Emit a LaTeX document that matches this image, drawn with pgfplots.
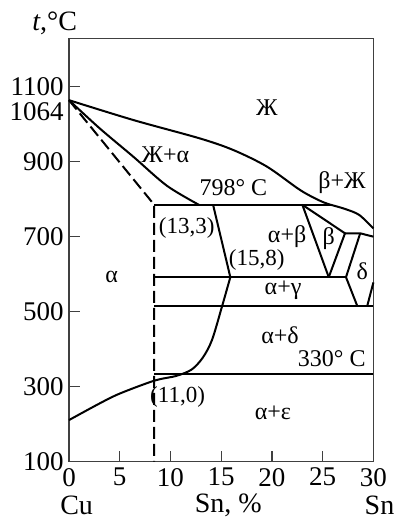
\documentclass[border=0pt]{standalone}
\usepackage{fontspec}
\setmainfont{Liberation Serif}
\usepackage{pgfplots}
\pgfplotsset{compat=1.18}

\begin{document}
\fontsize{12}{14}\selectfont
\begin{tikzpicture}
\useasboundingbox (-34.5pt,-28.65pt) rectangle (163pt,230.85pt);
\begin{axis}[
  at={(0,0)}, anchor=south west,
  scale only axis, width=152.2pt, height=211.7pt,
  xmin=0, xmax=30, ymin=100, ymax=1229,
  xtick={0,5,...,30}, ytick={100,300,...,1100},
  tick align=inside, tick pos=left,
  major tick length=5.5pt,
  extra y ticks={1064},
  extra y tick style={major tick length=0pt, tick label style={yshift=-5.7pt}},
  axis line style={draw=black!75, line width=0.6pt},
  tick style={black!75, line width=0.6pt},
  tick label style={font=\fontsize{13.5}{15}\selectfont, inner sep=1.5pt},
  xticklabel style={yshift=-1.5pt},
  yticklabel style={xshift=-1pt},
  /pgf/number format/assume math mode=true,
  /pgf/number format/1000 sep={},
  clip=false,
]
% liquidus
\addplot[black, line width=1pt, smooth, tension=0.5] coordinates {
  (0,1064) (6.35,1011) (12.9,962) (16.2,931) (19.5,887) (22.8,824) (24.8,795) (25.8,785)};
\addplot[black, line width=1pt, smooth, tension=0.5] coordinates {
  (25.8,785) (27.2,774) (28.6,758) (30,722)};
% solidus of alpha
\addplot[black, line width=1pt, smooth, tension=0.5] coordinates {
  (0,1064) (3.06,988) (6.35,913) (9.64,836) (12.8,785)};
% dashed boundary
\addplot[black, line width=1pt, dash pattern=on 6pt off 2.5pt] coordinates {
  (0,1064) (8.4,785) (8.4,100)};
% horizontals
\addplot[black, line width=1pt] coordinates {(8.4,785) (25.8,785)};
\addplot[black, line width=1pt] coordinates {(8.4,592) (27.3,592)};
\addplot[black, line width=1pt] coordinates {(8.4,516) (30,516)};
\addplot[black, line width=1pt] coordinates {(8.4,333) (30,333)};
% alpha solvus
\addplot[black, line width=1pt] coordinates {(14.2,785) (15.9,592)};
\addplot[black, line width=1pt, smooth, tension=0.5] coordinates {
  (15.9,592) (15.07,513) (14.1,425) (13.2,378) (12.1,346) (10.6,329) (8.4,316) (5.03,282) (3.06,256) (0,211)};
% beta, gamma, delta
\addplot[black, line width=1pt] coordinates {(23.0,785) (25.6,592)};
\addplot[black, line width=1pt] coordinates {(23.0,785) (27.2,709) (25.6,592)};
\addplot[black, line width=1pt] coordinates {(27.2,709) (28.7,709) (30,700)};
\addplot[black, line width=1pt] coordinates {(28.7,709) (27.3,592) (28.4,516)};
\addplot[black, line width=1pt] coordinates {(30,578) (29.4,516)};

% region labels
\node at (19.5,1045) {Ж};
\node at (9.5,918) {Ж+α};
\node at (16.2,830) {798° C};
\node at (26.9,845) {β+Ж};
\node[font=\fontsize{11.5}{13}\selectfont] at (11.6,722) {(13,3)};
\node at (21.5,699) {α+β};
\node at (25.6,696) {β};
\node[font=\fontsize{11.5}{13}\selectfont] at (18.5,638) {(15,8)};
\node at (28.9,607) {δ};
\node at (4.2,593) {α};
\node at (21.1,558) {α+γ};
\node at (20.8,438) {α+δ};
\node at (25.9,376) {330° C};
\node[font=\fontsize{11.5}{13}\selectfont] at (10.7,272) {(11,0)};
\node at (20.1,229) {α+ε};
% axis labels
\node[font=\fontsize{14}{16}\selectfont, inner sep=1pt] at (-1.4,1270) {\textit{t},°C};
\node[font=\fontsize{14}{16}\selectfont, inner sep=1pt] at (0.75,-17.5) {Cu};
\node[font=\fontsize{14}{16}\selectfont, inner sep=1pt] at (15.7,-17.5) {Sn, \%};
\node[font=\fontsize{14}{16}\selectfont, inner sep=1pt] at (30.6,-17.5) {Sn};
\end{axis}
\end{tikzpicture}
\end{document}
